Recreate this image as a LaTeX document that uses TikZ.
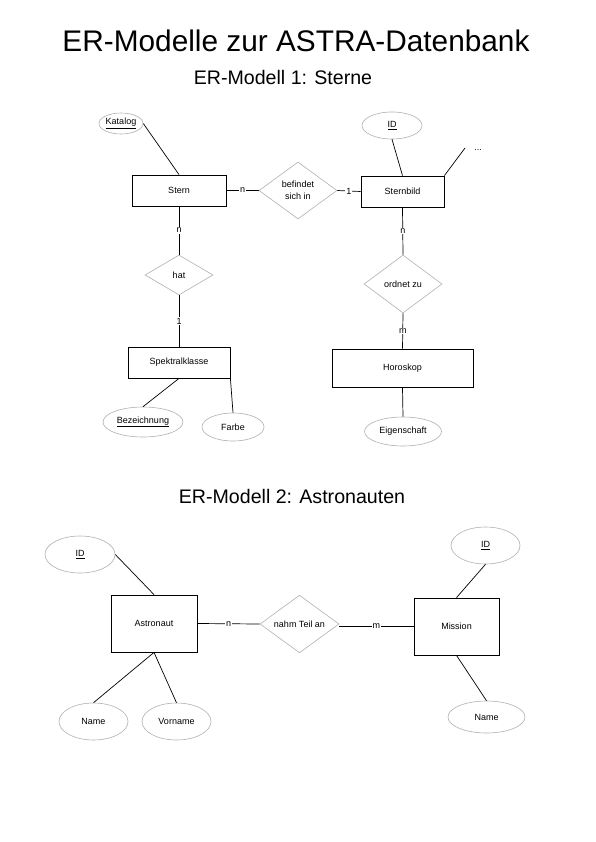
\documentclass[tikz,border=0pt]{standalone}
\usepackage{fontspec}
\setmainfont{Liberation Sans}
\usetikzlibrary{shapes.geometric}
\begin{document}
\begin{tikzpicture}[x=1pt,y=-1pt,
  ent/.style={draw=black,line width=0.8pt,rectangle,inner sep=0pt,font=\fontsize{9}{10}\selectfont},
  att/.style={draw={rgb,255:red,176;green,176;blue,176},line width=0.6pt,ellipse,inner sep=0pt,font=\fontsize{9}{10}\selectfont},
  rel/.style={draw={rgb,255:red,176;green,176;blue,176},line width=0.6pt,diamond,inner sep=0pt,align=center,font=\fontsize{9}{11.5}\selectfont},
  con/.style={draw=black,line width=0.7pt},
  lbl/.style={fill=white,inner sep=1pt,font=\fontsize{9}{10}\selectfont},
  key/.style={font=\fontsize{9}{10}\selectfont}
]
\useasboundingbox (0,0) rectangle (595,842);
\fill[white] (0,0) rectangle (595,842);

% titles
\node (title) at (296,41) {\fontsize{29.8}{34}\selectfont ER-Modelle zur ASTRA-Datenbank};
\node (sub1) at (283,77) {\fontsize{19.6}{22}\selectfont ER-Modell 1: Sterne};
\node (sub2) at (292,496) {\fontsize{19.6}{22}\selectfont ER-Modell 2: Astronauten};

% ---- Model 1 ----
\node[ent,minimum width=94pt,minimum height=31pt] (stern) at (179,190.5) {Stern};
\node[att,minimum width=44pt,minimum height=21pt] (kat) at (121,123.5) {\underline{Katalog}};
\node[rel,minimum width=78pt,minimum height=57pt] (bef) at (298,190.5) {befindet\\sich in};
\node[ent,minimum width=83pt,minimum height=31pt] (sb) at (402.5,191.5) {Sternbild};
\node[att,minimum width=60pt,minimum height=27pt] (id1) at (392,125.5) {\underline{ID}};
\coordinate (dotsend) at (465,148);
\node[key] (dots) at (478,150) {...};
\node[rel,minimum width=68pt,minimum height=40pt] (hat) at (179,275) {hat};
\node[ent,minimum width=102pt,minimum height=31pt] (spk) at (179,362.5) {Spektralklasse};
\node[att,minimum width=80pt,minimum height=30pt] (bez) at (143,422) {\underline{Bezeichnung}};
\node[att,minimum width=62pt,minimum height=28pt] (farbe) at (233,427) {Farbe};
\node[rel,minimum width=78pt,minimum height=58pt] (ord) at (403,284) {ordnet zu};
\node[ent,minimum width=141pt,minimum height=38pt] (hor) at (402.5,368) {Horoskop};
\node[att,minimum width=77pt,minimum height=29pt] (eig) at (403,431.5) {Eigenschaft};

\draw[con] (kat.east) -- (stern.north);
\draw[con] (stern.east) -- node[lbl] {n} (bef.west);
\draw[con] (bef.east) -- node[lbl] {1} (sb.west);
\draw[con] (id1.south) -- (sb.north);
\draw[con] (sb.north east) -- (dotsend);
\draw[con] (stern.south) -- node[lbl] {n} (hat.north);
\draw[con] (hat.south) -- node[lbl] {1} (spk.north);
\draw[con] (spk.south) -- (bez.north);
\draw[con] (spk.south east) -- (farbe.north);
\draw[con] (sb.south) -- node[lbl] {n} (ord.north);
\draw[con] (ord.south) -- node[lbl] {m} (hor.north);
\draw[con] (hor.south) -- (eig.north);

% ---- Model 2 ----
\node[ent,minimum width=86pt,minimum height=57pt] (astro) at (154,623.5) {Astronaut};
\node[att,minimum width=70pt,minimum height=37pt] (id2) at (80,554.5) {\underline{ID}};
\node[rel,minimum width=79pt,minimum height=56pt] (nahm) at (299.5,624) {nahm Teil an};
\node[ent,minimum width=85pt,minimum height=57pt] (mis) at (456.5,626.5) {Mission};
\node[att,minimum width=69pt,minimum height=37pt] (id3) at (485.5,545.5) {\underline{ID}};
\node[att,minimum width=77pt,minimum height=32pt] (mname) at (486.5,717) {Name};
\node[att,minimum width=69pt,minimum height=37pt] (aname) at (93.5,721.5) {Name};
\node[att,minimum width=69pt,minimum height=37pt] (vname) at (176.5,721.5) {Vorname};

\draw[con] (id2.east) -- (astro.north);
\draw[con] (astro.east) -- node[lbl] {n} (nahm.west);
\draw[con] (nahm.east |- mis.west) -- node[lbl] {m} (mis.west);
\draw[con] (id3.south) -- (mis.north);
\draw[con] (mis.south) -- (mname.north);
\draw[con] (astro.south) -- (aname.north);
\draw[con] (astro.south) -- (vname.north);
\end{tikzpicture}
\end{document}
